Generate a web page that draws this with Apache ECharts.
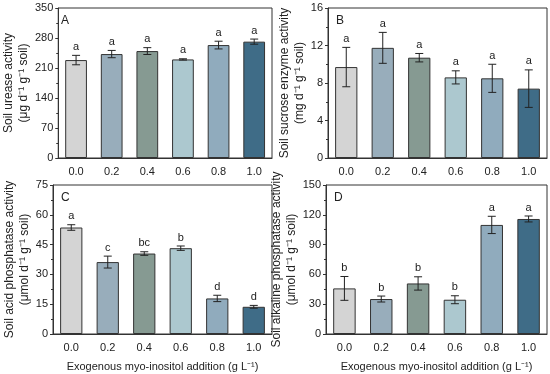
<!DOCTYPE html>
<html><head><meta charset="utf-8">
<script src="https://cdn.jsdelivr.net/npm/echarts@6/dist/echarts.min.js"></script>
<style>html,body{margin:0;padding:0;background:#fff}#c{width:550px;height:374px}</style>
</head><body><div id="c"></div>
<script>
var categories = ['0.0','0.2','0.4','0.6','0.8','1.0'];
var barColors = ['#d4d4d4','#98adbb','#869a92','#acc8cf','#90abbd','#3f6c87'];

var ureaseMean = [228.5, 242.5, 249.5, 230, 263.5, 271.5];
var ureaseErr  = [11, 8.5, 8, 1.5, 9, 6];
var ureaseSig  = ['a','a','a','a','a','a'];

var sucroseMean = [9.7, 11.75, 10.7, 8.6, 8.5, 7.4];
var sucroseErr  = [2.1, 1.65, 0.45, 0.7, 1.5, 2.0];
var sucroseSig  = ['a','a','a','a','a','a'];

var acidMean = [53.6, 36.2, 40.5, 43.2, 17.9, 13.7];
var acidErr  = [1.4, 3.0, 0.9, 1.1, 1.6, 0.7];
var acidSig  = ['a','c','bc','b','d','d'];

var alkMean = [45.9, 35.2, 50.9, 34.5, 109.8, 115.8];
var alkErr  = [12, 3, 6.7, 4, 8.7, 3];
var alkSig  = ['b','b','b','b','a','a'];

var panels = [
  {mean: ureaseMean, err: ureaseErr, sig: ureaseSig, max: 350, interval: 70, letter: 'A', gap: 19,
   name: 'Soil urease activity\n(μg d⁻¹ g⁻¹ soil)', grid: {left: 53, top: 8, width: 219, height: 150}},
  {mean: sucroseMean, err: sucroseErr, sig: sucroseSig, max: 16, interval: 4, letter: 'B', gap: 16,
   name: 'Soil sucrose enzyme activity\n(mg d⁻¹ g⁻¹ soil)', grid: {left: 328, top: 8, width: 219, height: 150}},
  {mean: acidMean, err: acidErr, sig: acidSig, max: 75, interval: 15, letter: 'C', gap: 16,
   name: 'Soil acid phosphatase activity\n(μmol d⁻¹ g⁻¹ soil)', grid: {left: 53, top: 185, width: 219, height: 149}},
  {mean: alkMean, err: alkErr, sig: alkSig, max: 150, interval: 30, letter: 'D', gap: 25,
   name: 'Soil alkaline phosphatase activity\n(μmol d⁻¹ g⁻¹ soil)', grid: {left: 326, top: 185, width: 221, height: 149}}
];

var FONT = 'Liberation Sans, Arial, sans-serif';
var grids = [], xAxes = [], yAxes = [], series = [], graphics = [];
panels.forEach(function(p, i) {
  grids.push(Object.assign({show: true, borderColor: '#333', borderWidth: 1, backgroundColor: 'transparent'}, p.grid));
  xAxes.push({
    type: 'category', gridIndex: i, data: categories,
    axisLine: {lineStyle: {color: '#333', width: 1}},
    axisTick: {alignWithLabel: true, length: 3, lineStyle: {color: '#333'}},
    axisLabel: {color: '#222', fontSize: 11, fontFamily: FONT, margin: 8},
    name: i >= 2 ? 'Exogenous myo-inositol addition (g L⁻¹)' : '',
    nameLocation: 'middle', nameGap: 27,
    nameTextStyle: {color: '#222', fontSize: 11, fontFamily: FONT}
  });
  yAxes.push({
    type: 'value', gridIndex: i, min: 0, max: p.max, interval: p.interval,
    axisLine: {show: true, lineStyle: {color: '#333', width: 1}},
    axisTick: {show: true, length: 3, lineStyle: {color: '#333'}},
    minorTick: {show: true, splitNumber: 2, length: 2, lineStyle: {color: '#333'}},
    splitLine: {show: false},
    axisLabel: {color: '#222', fontSize: 11, fontFamily: FONT, margin: 5},
    name: p.name, nameLocation: 'middle', nameGap: p.gap, nameRotate: 90,
    nameTextStyle: {color: '#222', fontSize: 12, fontFamily: FONT, lineHeight: 15, align: 'center'}
  });
  series.push({
    type: 'bar', xAxisIndex: i, yAxisIndex: i, barWidth: '61%',
    data: p.mean.map(function(v, k) {
      return {value: v, itemStyle: {color: barColors[k], borderColor: '#333', borderWidth: 1}};
    })
  });
  series.push({
    type: 'custom', xAxisIndex: i, yAxisIndex: i, z: 5,
    data: p.mean.map(function(v, k) { return [k, v - p.err[k], v + p.err[k], p.sig[k]]; }),
    renderItem: function(params, api) {
      var lo = api.coord([api.value(0), api.value(1)]);
      var hi = api.coord([api.value(0), api.value(2)]);
      var x = lo[0], cw = 4;
      var style = {stroke: '#222', lineWidth: 1};
      return {type: 'group', children: [
        {type: 'line', shape: {x1: x, y1: lo[1], x2: x, y2: hi[1]}, style: style},
        {type: 'line', shape: {x1: x - cw, y1: lo[1], x2: x + cw, y2: lo[1]}, style: style},
        {type: 'line', shape: {x1: x - cw, y1: hi[1], x2: x + cw, y2: hi[1]}, style: style},
        {type: 'text', x: x, y: hi[1] - 3, style: {text: p.sig[params.dataIndex], textAlign: 'center', textVerticalAlign: 'bottom',
          fill: '#222', fontSize: 11, fontFamily: FONT}}
      ]};
    }
  });
  graphics.push({type: 'text', left: p.grid.left + 8, top: p.grid.top + 7,
    style: {text: p.letter, fill: '#222', fontSize: 12, fontFamily: FONT}});
});

var chart = echarts.init(document.getElementById('c'), null, {renderer: 'canvas'});
chart.setOption({
  animation: false, backgroundColor: '#fff',
  grid: grids, xAxis: xAxes, yAxis: yAxes, series: series, graphic: graphics
});
</script></body></html>
